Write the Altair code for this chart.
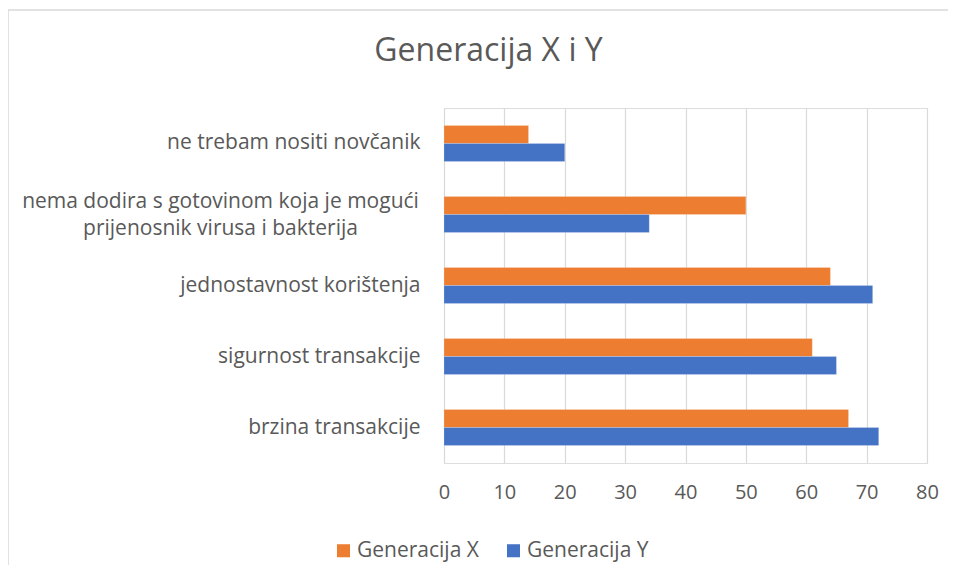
import altair as alt
import pandas as pd

categories = [
    "ne trebam nositi novčanik",
    "nema dodira s gotovinom koja je mogući\nprijenosnik virusa i bakterija",
    "jednostavnost korištenja",
    "sigurnost transakcije",
    "brzina transakcije",
]
series = ["Generacija X", "Generacija Y"]
gen_x = [14, 50, 64, 61, 67]
gen_y = [20, 34, 71, 65, 72]
x_ticks = [0, 10, 20, 30, 40, 50, 60, 70, 80]

rows = []
for c, vx, vy in zip(categories, gen_x, gen_y):
    rows.append({"kategorija": c, "serija": series[0], "vrijednost": vx})
    rows.append({"kategorija": c, "serija": series[1], "vrijednost": vy})
df = pd.DataFrame(rows)

FONT = "Open Sans"
TXT = "#595959"
MULTI = "indexof(datum.value, '\\n') >= 0"

bars = alt.Chart(df).mark_bar(stroke="white", strokeWidth=0.5, strokeOpacity=0.4).encode(
    x=alt.X(
        "vrijednost:Q",
        scale=alt.Scale(domain=[0, 80], nice=False),
        axis=alt.Axis(
            values=x_ticks, title=None, grid=True, gridColor="#d9d9d9", gridWidth=1.2,
            domain=False, ticks=False, labelFont=FONT, labelFontSize=20,
            labelColor=TXT, labelPadding=19, labelFlush=False,
        ),
    ),
    y=alt.Y(
        "kategorija:N",
        sort=categories,
        scale=alt.Scale(paddingInner=0.493, paddingOuter=0.246),
        axis=alt.Axis(
            title=None, domain=False, ticks=False, grid=False,
            labelFont=FONT, labelFontSize=21, labelColor=TXT, labelLimit=500,
            labelLineHeight=27,
            labelExpr="split(datum.label, '\\n')",
            labelAlign=alt.ConditionalAxisLabelAlign(
                condition={"test": MULTI, "value": "center"}, value="right",
            ),
            labelPadding=alt.ConditionalAxisNumber(
                condition={"test": MULTI, "value": 224}, value=24,
            ),
            labelOffset=alt.ConditionalAxisNumber(
                condition={"test": MULTI, "value": -12}, value=0,
            ),
        ),
    ),
    yOffset=alt.YOffset("serija:N", sort=series, scale=alt.Scale(paddingInner=0, paddingOuter=0)),
    color=alt.Color(
        "serija:N",
        scale=alt.Scale(domain=series, range=["#ED7D31", "#4472C4"]),
        legend=alt.Legend(
            title=None, orient="none", direction="horizontal", legendX=-111, legendY=432,
            symbolType="square", symbolSize=170, symbolStrokeWidth=0, labelFont=FONT,
            labelFontSize=21, labelColor=TXT, columnPadding=24, labelOffset=3,
        ),
    ),
)

frame_top = alt.Chart(pd.DataFrame({"k": [0]})).mark_rule(
    color="#d9d9d9", strokeWidth=1.5, clip=False
).encode(x=alt.value(-436), x2=alt.value(504), y=alt.value(-98))

frame_left = alt.Chart(pd.DataFrame({"k": [0]})).mark_rule(
    color="#d9d9d9", strokeWidth=1.5, clip=False
).encode(x=alt.value(-436), y=alt.value(-98), y2=alt.value(457))

chart = alt.layer(frame_top, frame_left, bars).properties(
    width=483,
    height=355,
    padding={"left": 436, "top": 100, "right": 21, "bottom": 110},
    autosize=alt.AutoSizeParams(type="none"),
    title=alt.TitleParams(
        "Generacija X i Y", font=FONT, fontSize=32, fontWeight="normal", color=TXT,
        anchor="middle", frame="group", dx=-197, offset=-84, baseline="alphabetic",
    ),
).configure_view(stroke=None).configure(background="white")

chart.save("out.html", embed_options={"renderer": "svg", "actions": False})
